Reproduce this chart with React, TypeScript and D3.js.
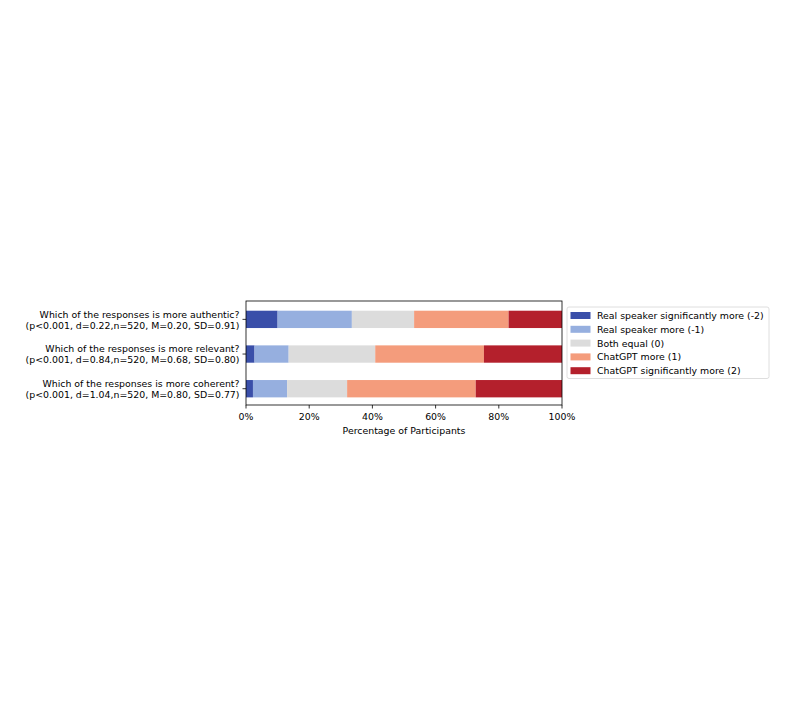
import * as d3 from "d3";

const questions = [
  "Which of the responses is more authentic?",
  "Which of the responses is more relevant?",
  "Which of the responses is more coherent?",
];
const stats = [
  "(p<0.001, d=0.22,n=520, M=0.20, SD=0.91)",
  "(p<0.001, d=0.84,n=520, M=0.68, SD=0.80)",
  "(p<0.001, d=1.04,n=520, M=0.80, SD=0.77)",
];
const levels = [
  "Real speaker significantly more (-2)",
  "Real speaker more (-1)",
  "Both equal (0)",
  "ChatGPT more (1)",
  "ChatGPT significantly more (2)",
];
const colors = ["#3a4fa9", "#96afdf", "#dcdcdc", "#f49c7c", "#b4202c"];

// percentages per level, one entry per question
const sigReal = [10.0, 2.7, 2.2];
const real = [23.5, 10.8, 10.8];
const equal = [19.7, 27.4, 19.0];
const gpt = [29.9, 34.4, 40.7];
const sigGpt = [16.9, 24.7, 27.3];

const xTicks = [0, 20, 40, 60, 80, 100];

const font = "DejaVu Sans, sans-serif";
const fs = 9.4;

export default function App() {
  const left = 246;
  const right = 562;
  const top = 301;
  const bottom = 405;

  const x = d3.scaleLinear().domain([0, 100]).range([left, right]);
  const y = d3.scaleLinear().domain([-0.53, 2.47]).range([top, bottom]);
  const barH = y(0.25) - y(-0.25);

  const rows = questions.map((q, i) => ({
    q,
    a: sigReal[i],
    b: real[i],
    c: equal[i],
    d: gpt[i],
    e: sigGpt[i],
  }));
  const series = d3.stack<any>().keys(["a", "b", "c", "d", "e"])(rows);

  return (
    <svg
      width={800}
      height={721}
      style={{ position: "absolute", left: 0, top: 0, background: "#fff" }}
      fontFamily={font}
    >
      {series.map((s, k) => (
        <g key={k} fill={colors[k]}>
          {s.map((d, i) => (
            <rect
              key={i}
              x={x(d[0])}
              y={y(i) - barH / 2}
              width={x(d[1]) - x(d[0])}
              height={barH}
            />
          ))}
        </g>
      ))}

      <rect
        x={left}
        y={top}
        width={right - left}
        height={bottom - top}
        fill="none"
        stroke="#000"
        strokeWidth={0.8}
      />

      {questions.map((q, i) => (
        <g key={i}>
          <line x1={left} x2={left - 3.5} y1={y(i)} y2={y(i)} stroke="#000" strokeWidth={0.8} />
          <text x={left - 6.5} y={y(i) - 5.2} textAnchor="end" dominantBaseline="central" fontSize={fs}>
            {q}
          </text>
          <text x={left - 6.5} y={y(i) + 5.8} textAnchor="end" dominantBaseline="central" fontSize={fs}>
            {stats[i]}
          </text>
        </g>
      ))}

      {xTicks.map((t) => (
        <g key={t}>
          <line x1={x(t)} x2={x(t)} y1={bottom} y2={bottom + 3.5} stroke="#000" strokeWidth={0.8} />
          <text x={x(t)} y={bottom + 11.5} textAnchor="middle" dominantBaseline="central" fontSize={fs}>
            {t}%
          </text>
        </g>
      ))}
      <text x={(left + right) / 2} y={430.5} textAnchor="middle" dominantBaseline="central" fontSize={fs}>
        Percentage of Participants
      </text>

      <rect x={567} y={307} width={202} height={71.5} rx={2} fill="#fff" stroke="#d6d6d6" strokeWidth={0.8} />
      {levels.map((l, k) => {
        const ly = 315 + k * 13.8;
        return (
          <g key={k}>
            <rect x={570.5} y={ly - 3} width={20} height={7} fill={colors[k]} />
            <text x={597} y={ly + 0.5} dominantBaseline="central" fontSize={fs}>
              {l}
            </text>
          </g>
        );
      })}
    </svg>
  );
}
